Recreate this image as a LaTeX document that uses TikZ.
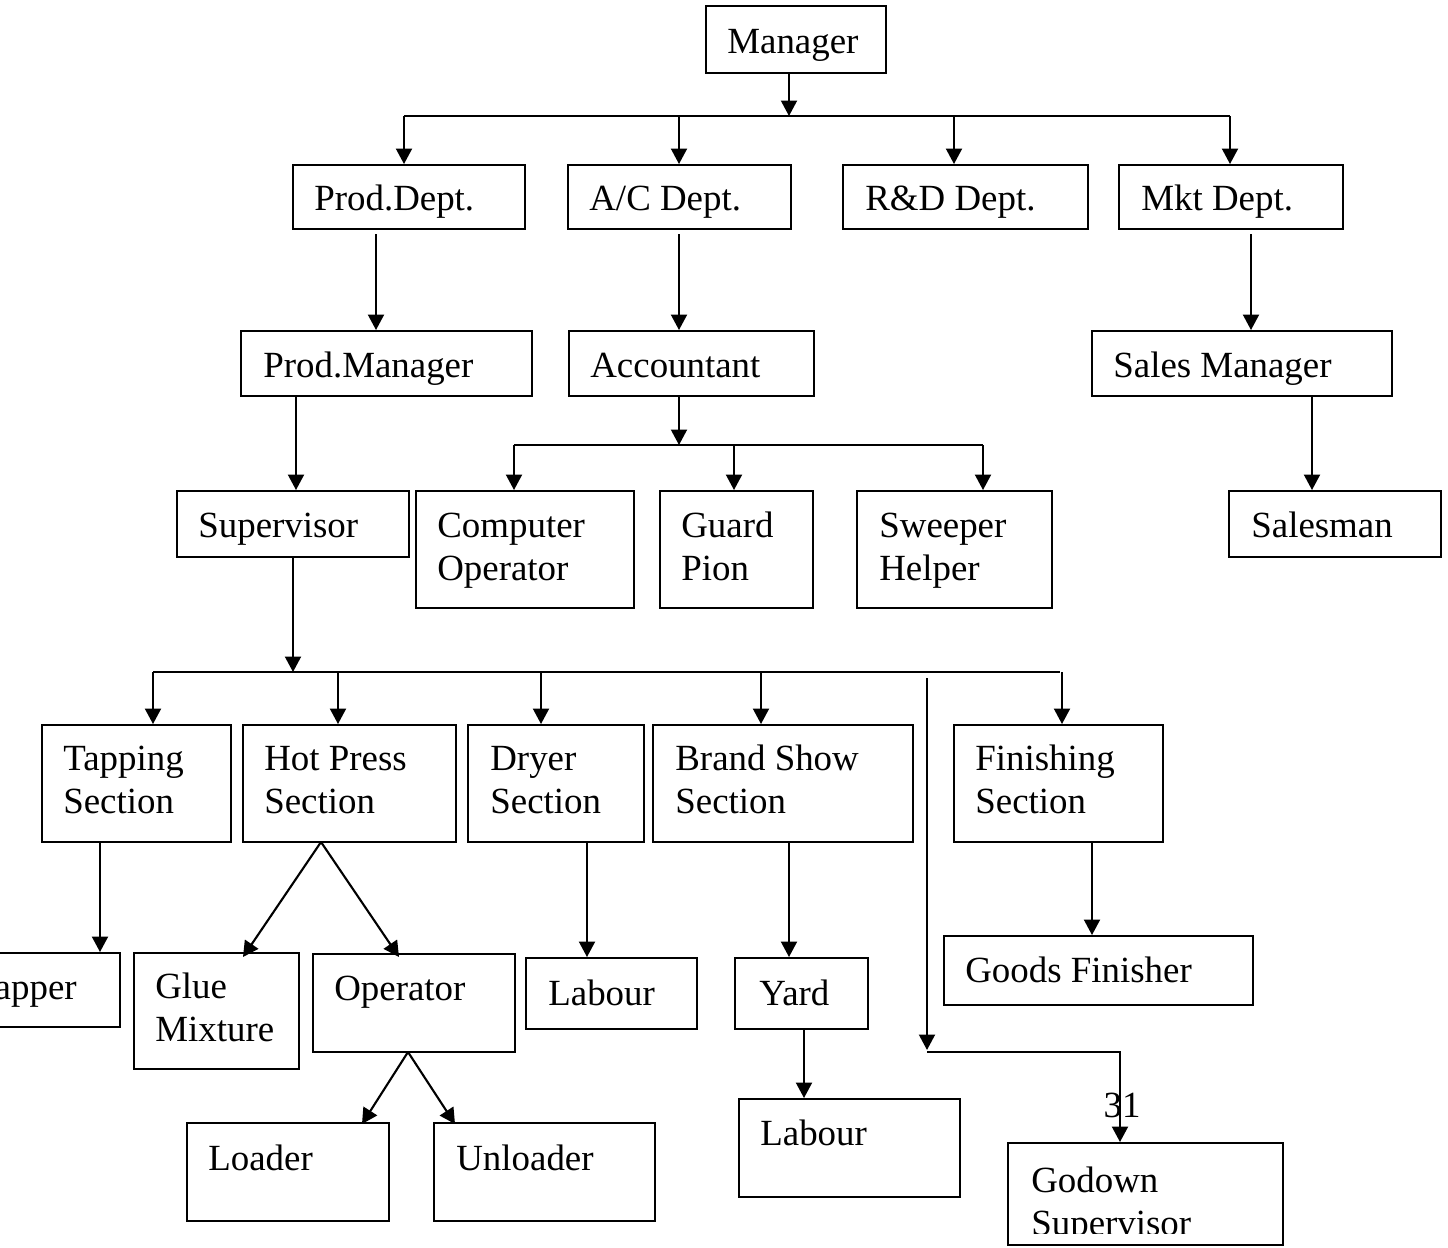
\documentclass[tikz,border=0pt]{standalone}
\usepackage{fontspec}
\setmainfont{Liberation Serif}
\usetikzlibrary{arrows.meta}
\newcommand\bx[5]{\node[box, minimum width={(#4-#2)*0.02cm}, minimum height={(#5-#3)*0.02cm}] (#1) at ({(#2+#4)/2},{(#3+#5)/2}) {};}
\newcommand\tx[4]{\node[lbl] (#1) at (#2,#3) {#4};}
\begin{document}
\begin{tikzpicture}[x=0.02cm,y=-0.02cm,
  box/.style={draw, line width=1.1pt, inner sep=0pt, rectangle},
  lbl/.style={anchor=base west, inner sep=0pt, font=\fontsize{21}{25}\selectfont},
  conn/.style={line width=1.2pt},
  arr/.style={line width=1.2pt, -{Triangle[length=0.31cm,width=0.32cm]}},
]
\useasboundingbox (0,0) rectangle (1448,1248);
\clip (0,0) rectangle (1448,1248);

% boxes
\bx{mgr}{706}{6}{886}{73}
\bx{prodd}{293}{165}{525}{229}
\bx{acd}{568}{165}{791}{229}
\bx{rdd}{843}{165}{1088}{229}
\bx{mktd}{1119}{165}{1343}{229}
\bx{prodm}{241}{331}{532}{396}
\bx{acct}{569}{331}{814}{396}
\bx{salesm}{1092}{331}{1392}{396}
\bx{salesman}{1229}{491}{1441}{557}
\bx{sup}{177}{491}{409}{557}
\bx{comp}{416}{491}{634}{608}
\bx{guard}{660}{491}{813}{608}
\bx{sweep}{857}{491}{1052}{608}
\bx{tap}{42}{725}{231}{842}
\bx{hot}{243}{725}{456}{842}
\bx{dry}{468}{725}{644}{842}
\bx{brand}{653}{725}{913}{842}
\bx{fin}{954}{725}{1163}{842}
\bx{tapper}{-20}{953}{120}{1027}
\bx{glue}{134}{953}{299}{1069}
\bx{oper}{313}{954}{515}{1052}
\bx{labA}{526}{958}{697}{1029}
\bx{yard}{735}{958}{868}{1029}
\bx{labB}{739}{1099}{960}{1197}
\bx{goods}{944}{936}{1253}{1005}
\bx{loader}{187}{1123}{389}{1221}
\bx{unloader}{434}{1123}{655}{1221}
\bx{godown}{1008}{1143}{1283}{1245}

% texts
\tx{tmgr}{727}{53}{Manager}
\tx{tprodd}{314}{210}{Prod.Dept.}
\tx{tacd}{589}{210}{A/C Dept.}
\tx{trdd}{865}{210}{R\&D Dept.}
\tx{tmktd}{1141}{210}{Mkt Dept.}
\tx{tprodm}{263}{377}{Prod.Manager}
\tx{tacct}{590}{377}{Accountant}
\tx{tsalesm}{1113}{377}{Sales Manager}
\tx{tsalesman}{1251}{537}{Salesman}
\tx{tsup}{198}{537}{Supervisor}
\tx{tcompa}{437}{537}{Computer}
\tx{tcompb}{437}{580}{Operator}
\tx{tguarda}{681}{537}{Guard}
\tx{tguardb}{681}{580}{Pion}
\tx{tsweepa}{879}{537}{Sweeper}
\tx{tsweepb}{879}{580}{Helper}
\tx{ttapa}{63}{770}{Tapping}
\tx{ttapb}{63}{813}{Section}
\tx{thota}{264}{770}{Hot Press}
\tx{thotb}{264}{813}{Section}
\tx{tdrya}{490}{770}{Dryer}
\tx{tdryb}{490}{813}{Section}
\tx{tbranda}{675}{770}{Brand Show}
\tx{tbrandb}{675}{813}{Section}
\tx{tfina}{975}{770}{Finishing}
\tx{tfinb}{975}{813}{Section}
\node[lbl, anchor=base east] (ttapper) at (77,999) {Tapper};
\tx{tgluea}{155}{998}{Glue}
\tx{tglueb}{155}{1041}{Mixture}
\tx{toper}{334}{1000}{Operator}
\tx{tlabA}{548}{1005}{Labour}
\tx{tyard}{759}{1005}{Yard}
\tx{tlabB}{760}{1145}{Labour}
\tx{tgoods}{965}{982}{Goods Finisher}
\tx{tloader}{208}{1170}{Loader}
\tx{tunloader}{456}{1170}{Unloader}
\tx{tgodowna}{1031}{1192}{Godown}
\begin{scope}
\clip (1000,1100) rectangle (1300,1233);
\tx{tgodownb}{1031}{1235}{Supervisor}
\end{scope}
\node[lbl, anchor=base] (tpage) at (1122,1117) {31};

% connectors: top level
\coordinate (m1) at (789,116);
\draw[arr] (m1 |- mgr.south) -- (m1);
\coordinate (bA) at (404,116);
\coordinate (bB) at (679,116);
\coordinate (bC) at (954,116);
\coordinate (bD) at (1230,116);
\draw[conn] (bA) -- (bD);
\draw[arr] (bA) -- (bA |- prodd.north);
\draw[arr] (bB) -- (bB |- acd.north);
\draw[arr] (bC) -- (bC |- rdd.north);
\draw[arr] (bD) -- (bD |- mktd.north);

% second level
\coordinate (p1) at (376,234);
\draw[arr] (p1) -- (p1 |- prodm.north);
\coordinate (p2) at (679,234);
\draw[arr] (p2) -- (p2 |- acct.north);
\coordinate (p3) at (1251,234);
\draw[arr] (p3) -- (p3 |- salesm.north);
\coordinate (p4) at (1312,396);
\draw[arr] (p4) -- (p4 |- salesman.north);
\coordinate (p5) at (296,396);
\draw[arr] (p5) -- (p5 |- sup.north);

% accountant bus
\coordinate (a0) at (679,445);
\draw[arr] (a0 |- acct.south) -- (a0);
\coordinate (aA) at (514,445);
\coordinate (aB) at (734,445);
\coordinate (aC) at (983,445);
\draw[conn] (aA) -- (aC);
\draw[arr] (aA) -- (aA |- comp.north);
\draw[arr] (aB) -- (aB |- guard.north);
\draw[arr] (aC) -- (aC |- sweep.north);

% supervisor bus
\coordinate (s0) at (293,672);
\draw[arr] (s0 |- sup.south) -- (s0);
\coordinate (sA) at (153,672);
\coordinate (sB) at (338,672);
\coordinate (sC) at (541,672);
\coordinate (sD) at (761,672);
\coordinate (sE) at (1062,672);
\coordinate (sF) at (1060,672);
\draw[conn] (sA) -- (sF);
\draw[arr] (sA) -- (sA |- tap.north);
\draw[arr] (sB) -- (sB |- hot.north);
\draw[arr] (sC) -- (sC |- dry.north);
\draw[arr] (sD) -- (sD |- brand.north);
\draw[arr] (sE) -- (sE |- fin.north);

% loose line to godown
\coordinate (g0) at (927,678);
\coordinate (g1) at (927,1050);
\coordinate (g2) at (927,1052);
\coordinate (g3) at (1120,1052);
\draw[arr] (g0) -- (g1);
\draw[arr] (g2) -- (g3) -- (g3 |- godown.north);

% third level
\coordinate (q1) at (100,842);
\draw[arr] (q1) -- (q1 |- tapper.north);
\coordinate (hv) at (321,842);
\draw[arr] (hv) -- (243,957) coordinate (gl);
\draw[arr] (hv) -- (399,957) coordinate (op);
\coordinate (ov) at (408,1052);
\draw[arr] (ov) -- (362,1124) coordinate (ld);
\draw[arr] (ov) -- (455,1124) coordinate (uld);
\coordinate (q2) at (587,842);
\draw[arr] (q2) -- (q2 |- labA.north);
\coordinate (q3) at (789,842);
\draw[arr] (q3) -- (q3 |- yard.north);
\coordinate (q4) at (804,1029);
\draw[arr] (q4) -- (q4 |- labB.north);
\coordinate (q5) at (1092,842);
\draw[arr] (q5) -- (q5 |- goods.north);
\end{tikzpicture}
\end{document}
